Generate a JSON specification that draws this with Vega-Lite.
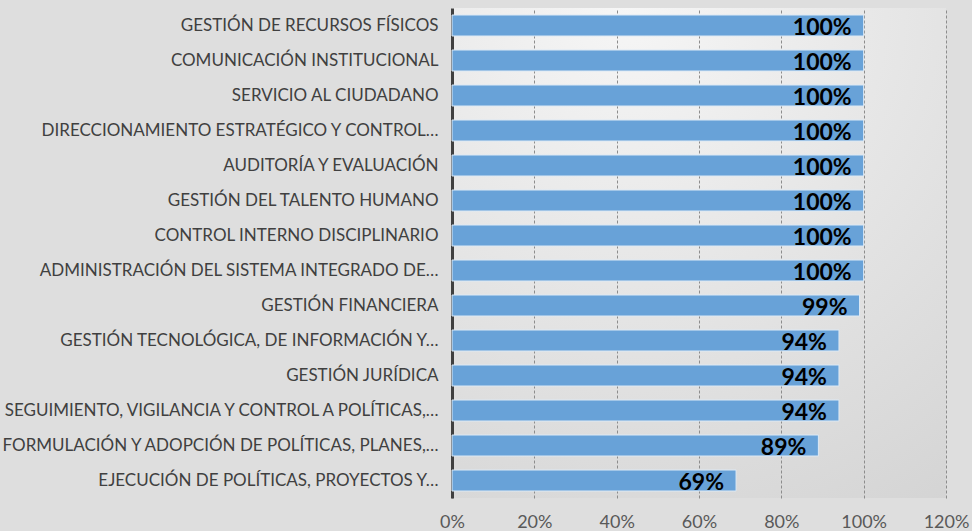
{
  "$schema": "https://vega.github.io/schema/vega-lite/v6.json",
  "autosize": {"type": "none"},
  "padding": {"left": 452, "top": 8, "right": 26, "bottom": 33},
  "width": 494,
  "height": 490,
  "background": "#dedede",
  "config": {
    "view": {
      "stroke": null,
      "fill": {
        "gradient": "radial",
        "x1": 0.35, "y1": 0, "r1": 0,
        "x2": 0.35, "y2": 0, "r2": 1.2,
        "stops": [
          {"offset": 0, "color": "#f6f6f6"},
          {"offset": 1, "color": "#d4d4d4"}
        ]
      }
    },
    "font": "Lato"
  },
  "data": {
    "values": [
      {"proceso": "GESTIÓN DE RECURSOS FÍSICOS", "valor": 1.0},
      {"proceso": "COMUNICACIÓN INSTITUCIONAL", "valor": 1.0},
      {"proceso": "SERVICIO AL CIUDADANO", "valor": 1.0},
      {"proceso": "DIRECCIONAMIENTO ESTRATÉGICO Y CONTROL…", "valor": 1.0},
      {"proceso": "AUDITORÍA Y EVALUACIÓN", "valor": 1.0},
      {"proceso": "GESTIÓN DEL TALENTO HUMANO", "valor": 1.0},
      {"proceso": "CONTROL INTERNO DISCIPLINARIO", "valor": 1.0},
      {"proceso": "ADMINISTRACIÓN DEL SISTEMA INTEGRADO DE…", "valor": 1.0},
      {"proceso": "GESTIÓN FINANCIERA", "valor": 0.99},
      {"proceso": "GESTIÓN TECNOLÓGICA, DE INFORMACIÓN Y…", "valor": 0.94},
      {"proceso": "GESTIÓN JURÍDICA", "valor": 0.94},
      {"proceso": "SEGUIMIENTO, VIGILANCIA Y CONTROL A POLÍTICAS,…", "valor": 0.94},
      {"proceso": "FORMULACIÓN Y ADOPCIÓN DE POLÍTICAS, PLANES,…", "valor": 0.89},
      {"proceso": "EJECUCIÓN DE POLÍTICAS, PROYECTOS Y…", "valor": 0.69}
    ]
  },
  "encoding": {
    "y": {
      "field": "proceso",
      "type": "nominal",
      "sort": null,
      "scale": {"paddingInner": 0.4, "paddingOuter": 0.2},
      "axis": {
        "title": null,
        "ticks": false,
        "labelFont": "Lato",
        "labelFontSize": 17,
        "labelColor": "#404040",
        "labelPadding": 14,
        "labelLimit": 460,
        "domainColor": "#404040",
        "domainWidth": 3
      }
    },
    "x": {
      "field": "valor",
      "type": "quantitative",
      "scale": {"domain": [0, 1.2]},
      "axis": {
        "title": null,
        "values": [0, 0.2, 0.4, 0.6, 0.8, 1.0, 1.2],
        "format": ".0%",
        "ticks": false,
        "domain": false,
        "grid": true,
        "gridColor": "#8c8c8c",
        "gridDash": [3, 2],
        "gridWidth": 1,
        "labelFlush": false,
        "labelFont": "Lato",
        "labelFontSize": 18,
        "labelColor": "#595959",
        "labelPadding": 15
      }
    }
  },
  "layer": [
    {
      "mark": {"type": "bar", "color": "#68a2d8", "stroke": "#dce9f5", "strokeWidth": 1}
    },
    {
      "mark": {"type": "text", "align": "right", "baseline": "middle", "dx": -12, "dy": 2, "font": "Lato", "fontSize": 23, "fontWeight": "bold", "color": "#000000"},
      "encoding": {
        "text": {"field": "valor", "type": "quantitative", "format": ".0%"}
      }
    }
  ]
}
